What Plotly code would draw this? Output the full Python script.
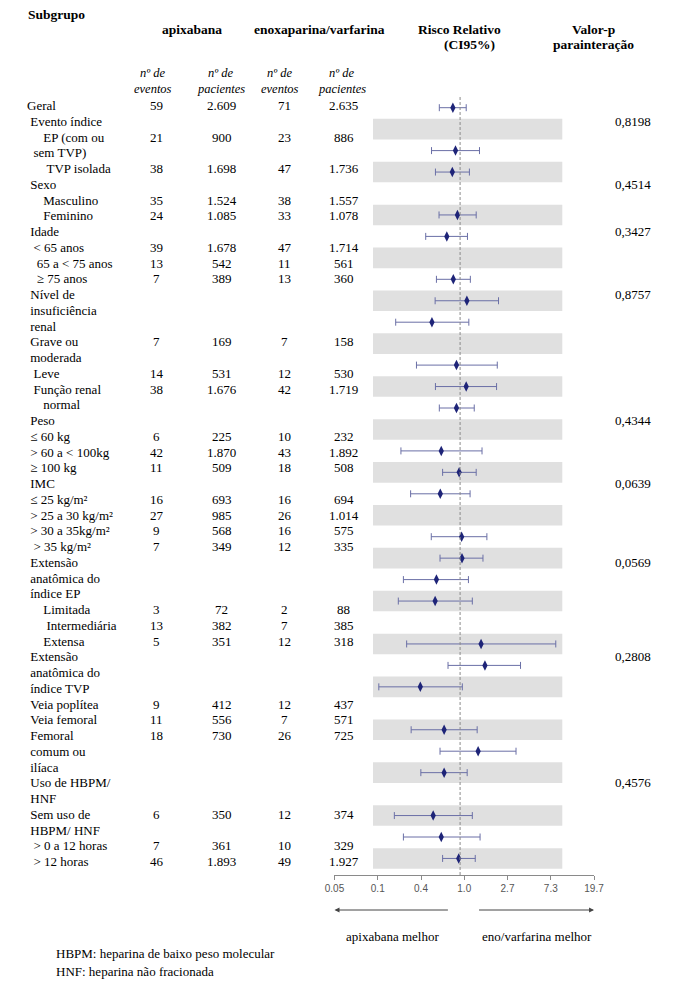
import math
import plotly.graph_objects as go

W, H = 681, 993

# ---------------- data ----------------
subgroups = [
    "Geral",
    " Evento índice",
    "     EP (com ou\n  sem TVP)",
    "      TVP isolada",
    " Sexo",
    "     Masculino",
    "     Feminino",
    " Idade",
    "  &lt; 65 anos",
    "   65 a &lt; 75 anos",
    "   ≥ 75 anos",
    " Nível de\n insuficiência\n renal",
    " Grave ou\n moderada",
    "  Leve",
    "  Função renal\n     normal",
    " Peso",
    " ≤ 60 kg",
    " &gt; 60 a &lt; 100kg",
    " ≥ 100 kg",
    " IMC",
    " ≤ 25 kg/m²",
    " &gt; 25 a 30 kg/m²",
    " &gt; 30 a 35kg/m²",
    "  &gt; 35 kg/m²",
    " Extensão\n anatômica do\n índice EP",
    "     Limitada",
    "      Intermediária",
    "     Extensa",
    " Extensão\n anatômica do\n índice TVP",
    " Veia poplítea",
    " Veia femoral",
    " Femoral\n comum ou\n ilíaca",
    " Uso de HBPM/\n HNF",
    " Sem uso de\n HBPM/ HNF",
    "  &gt; 0 a 12 horas",
    "  &gt; 12 horas",
]

apix_events = [59, None, 21, 38, None, 35, 24, None, 39, 13, 7, None, 7, 14, 38, None, 6, 42, 11,
               None, 16, 27, 9, 7, None, 3, 13, 5, None, 9, 11, 18, None, 6, 7, 46]
apix_patients = [2609, None, 900, 1698, None, 1524, 1085, None, 1678, 542, 389, None, 169, 531, 1676,
                 None, 225, 1870, 509, None, 693, 985, 568, 349, None, 72, 382, 351, None, 412, 556,
                 730, None, 350, 361, 1893]
eno_events = [71, None, 23, 47, None, 38, 33, None, 47, 11, 13, None, 7, 12, 42, None, 10, 43, 18,
              None, 16, 26, 16, 12, None, 2, 7, 12, None, 12, 7, 26, None, 12, 10, 49]
eno_patients = [2635, None, 886, 1736, None, 1557, 1078, None, 1714, 561, 360, None, 158, 530, 1719,
                None, 232, 1892, 508, None, 694, 1014, 575, 335, None, 88, 385, 318, None, 437, 571,
                725, None, 374, 329, 1927]
p_interaction = [None, 0.8198, None, None, 0.4514, None, None, 0.3427, None, None, None, 0.8757,
                 None, None, None, 0.4344, None, None, None, 0.0639, None, None, None, None, 0.0569,
                 None, None, None, 0.2808, None, None, None, 0.4576, None, None, None]

# forest plot rows (relative risk, 95% CI)
rr_point = [0.847, None, 0.900, 0.836, None, 0.941, 0.736, None, 0.855, 1.170, 0.522, None,
            0.920, 1.152, 0.920, None, 0.647, 0.978, 0.633, None, 1.037, 1.046, 0.579, 0.562,
            None, 1.623, 1.775, 0.399, None, 0.692, 1.517, 0.692, None, 0.537, 0.647, 0.969]
rr_low = [0.619, None, 0.517, 0.566, None, 0.615, 0.452, None, 0.579, 0.562, 0.226, None,
          0.365, 0.566, 0.619, None, 0.255, 0.668, 0.319, None, 0.514, 0.629, 0.270, 0.240,
          None, 0.291, 0.757, 0.153, None, 0.323, 0.629, 0.404, None, 0.219, 0.270, 0.668]
rr_high = [1.152, None, 1.566, 1.240, None, 1.451, 1.186, None, 1.268, 2.430, 1.224, None,
           2.361, 2.323, 1.387, None, 1.660, 1.451, 1.260, None, 1.857, 1.697, 1.213, 1.327,
           None, 9.12, 4.04, 1.053, None, 1.484, 3.64, 1.178, None, 1.327, 1.587, 1.419]

tick_log_values = [-3, -2, -1, 0, 1, 2, 3]
tick_labels = ["0.05", "0.1", "0.4", "1.0", "2.7", "7.3", "19.7"]

# ---------------- layout helpers ----------------
def px(x):
    return x / W

def py(y):
    return 1 - y / H

SERIF = "Liberation Serif"
SANS = "Liberation Sans"
FS = 13
FS_HEAD = 13.5
NBSP = "\u00a0"

def nb(s):
    n = len(s) - len(s.lstrip(" "))
    return NBSP * n + s.lstrip(" ")

def fmt_int(v):
    return f"{v:,}".replace(",", ".")

# forest geometry (pixels)
ROW0, ROWSTEP = 107.7, 21.45
FTOP, FBOT = 97.0, 875.0
REF_PX, LN_PX = 463.7, 44.6          # reference line position & px per ln-unit
BAND_L, BAND_R = 374.0, 569.0
AX_L, AX_R = 334.3, 601.7            # tick axis
# text table geometry
LINE0, LINESTEP = 105.5, 15.75
LABEL_X = 15.5
COL_X = [151, 218, 283, 344]
PVAL_X = 642

n_rows = len(rr_point)

fig = go.Figure()

pt_x, pt_y, e_plus, e_minus = [], [], [], []
for i in range(n_rows):
    if rr_point[i] is None:
        continue
    pt_x.append(rr_point[i])
    pt_y.append(i)
    e_plus.append(rr_high[i] - rr_point[i])
    e_minus.append(rr_point[i] - rr_low[i])

fig.add_trace(go.Scatter(
    x=pt_x, y=pt_y, mode="markers",
    marker=dict(symbol="diamond-tall", size=7.5, color="#1e2478"),
    error_x=dict(type="data", symmetric=False, array=e_plus, arrayminus=e_minus,
                 color="#6a6fa6", thickness=1, width=3.5),
    showlegend=False, hoverinfo="skip", cliponaxis=False,
))

shapes = []
for i in range(n_rows):
    if i % 2 == 1:
        shapes.append(dict(type="rect", xref="x domain", yref="y", x0=0, x1=1,
                           y0=i - 0.48, y1=i + 0.48, fillcolor="#e0e0e0",
                           line=dict(width=0), layer="below"))
shapes.append(dict(type="line", xref="x", yref="y domain", x0=1, x1=1, y0=0, y1=1,
                   line=dict(color="#8a8a8a", width=1, dash="3px,2px")))

ln_left = (BAND_L - REF_PX) / LN_PX
ln_right = (BAND_R - REF_PX) / LN_PX
y_top = (FTOP - ROW0) / ROWSTEP
y_bot = (FBOT - ROW0) / ROWSTEP

annotations = []

def ann(text, x, y, xanchor="left", size=FS, bold=False, italic=False, color="#000",
        family=SERIF, yref="paper"):
    t = text
    if bold:
        t = "<b>" + t + "</b>"
    if italic:
        t = "<i>" + t + "</i>"
    annotations.append(dict(text=t, x=x, y=y, xref="paper", yref=yref,
                            xanchor=xanchor, yanchor="middle", showarrow=False,
                            font=dict(family=family, size=size, color=color)))

# headers
ann("Subgrupo", px(16), py(15), bold=True, size=FS_HEAD)
ann("apixabana", px(187), py(29), xanchor="center", bold=True, size=FS_HEAD)
ann("enoxaparina/varfarina", px(319), py(29), xanchor="center", bold=True, size=FS_HEAD)
ann("Risco Relativo", px(463), py(29), xanchor="center", bold=True, size=FS_HEAD)
ann("(CI95%)", px(473), py(44), xanchor="center", bold=True, size=FS_HEAD)
ann("Valor-p", px(601), py(29), xanchor="center", bold=True, size=FS_HEAD)
ann("parainteração", px(601), py(44), xanchor="center", bold=True, size=FS_HEAD)
for cx, word in zip([147, 217, 278, 342], ["eventos", "pacientes", "eventos", "pacientes"]):
    ann("nº de", px(cx), py(73), xanchor="center", italic=True, size=12.5)
    ann(word, px(cx), py(89), xanchor="center", italic=True, size=12.5)

# table body (uses y3 = text-line axis)
line = 0
for i, lab in enumerate(subgroups):
    parts = lab.split("\n")
    for k, part in enumerate(parts):
        ann(nb(part), px(LABEL_X), line + k, yref="y3")
    vals = [apix_events[i], apix_patients[i], eno_events[i], eno_patients[i]]
    for cx, v in zip(COL_X, vals):
        if v is not None:
            ann(fmt_int(v), px(cx), line, xanchor="center", yref="y3")
    if p_interaction[i] is not None:
        ann(f"{p_interaction[i]:.4f}".replace(".", ","), px(PVAL_X), line,
            xanchor="center", yref="y3")
    line += len(parts)

# direction arrows and labels
ARROW_Y = py(910)
unit = (AX_R - AX_L) / 6
mid = (AX_L + AX_R) / 2
annotations.append(dict(x=-3, y=ARROW_Y, xref="x2", yref="paper",
                        ax=(452.7 - mid) / unit, ay=0,
                        axref="x2", ayref="pixel", showarrow=True, text="",
                        arrowhead=2, arrowsize=1, arrowwidth=1, arrowcolor="#444"))
annotations.append(dict(x=3, y=ARROW_Y, xref="x2", yref="paper",
                        ax=(481.7 - mid) / unit, ay=0,
                        axref="x2", ayref="pixel", showarrow=True, text="",
                        arrowhead=2, arrowsize=1, arrowwidth=1, arrowcolor="#444"))
ann("apixabana melhor", px(394), py(936), xanchor="center")
ann("eno/varfarina melhor", px(543), py(936), xanchor="center")

# footnotes
ann("HBPM: heparina de baixo peso molecular", px(45), py(953))
ann("HNF: heparina não fracionada", px(45), py(971))

line_bottom = (H - LINE0) / LINESTEP
line_top = (0 - LINE0) / LINESTEP

fig.update_layout(
    width=W, height=H,
    margin=dict(l=0, r=0, t=0, b=0),
    paper_bgcolor="white", plot_bgcolor="rgba(0,0,0,0)",
    showlegend=False,
    xaxis=dict(type="log", domain=[px(BAND_L), px(BAND_R)],
               range=[ln_left / math.log(10), ln_right / math.log(10)],
               visible=False, fixedrange=True),
    yaxis=dict(domain=[py(FBOT), py(FTOP)], range=[y_bot, y_top],
               visible=False, fixedrange=True),
    xaxis2=dict(domain=[px(AX_L), px(AX_R)], range=[-3, 3], anchor="y",
                showline=True, linecolor="#8a8a8a", linewidth=1,
                ticks="outside", ticklen=4, tickcolor="#8a8a8a",
                tickvals=tick_log_values, ticktext=tick_labels,
                tickfont=dict(family=SANS, size=10, color="#555"),
                showgrid=False, zeroline=False, fixedrange=True),
    yaxis3=dict(domain=[0, 1], range=[line_bottom, line_top], anchor="x",
                visible=False, fixedrange=True),
    shapes=shapes,
    annotations=annotations,
)

fig.write_html("out.html", config={"displayModeBar": False},
               post_script="document.body.style.margin='0';")
